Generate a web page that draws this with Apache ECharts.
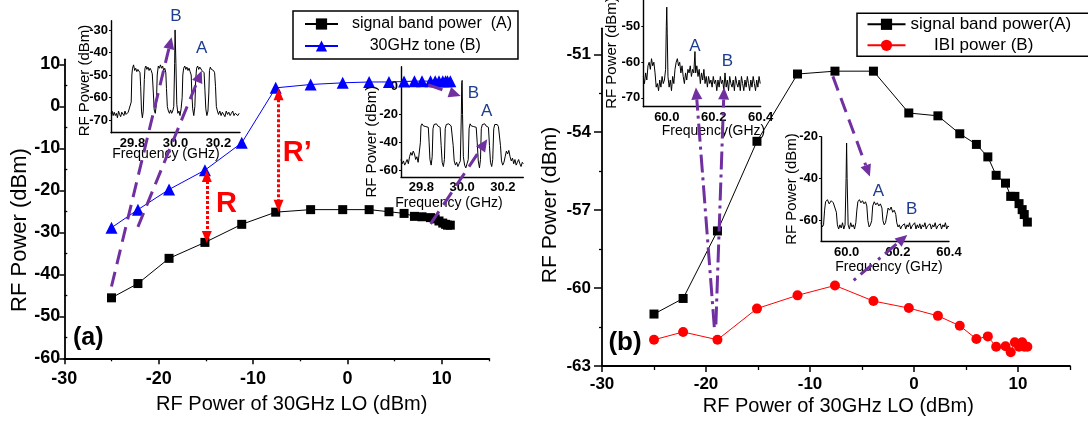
<!DOCTYPE html>
<html><head><meta charset="utf-8">
<script src="https://cdn.jsdelivr.net/npm/echarts@6/dist/echarts.min.js"></script>
<style>html,body{margin:0;padding:0;background:#fff}#c{width:1088px;height:423px}</style>
</head><body><div id="c"></div>
<script>
// ---------- main-panel data ----------
const LO_POWER = [-25, -22.2, -18.9, -15.1, -11.2, -7.6, -3.9, -0.5, 2.3, 4.4, 6.0, 7.1, 7.9, 8.8, 9.3, 9.7, 10.1, 10.4, 10.6, 10.9];
const A_SIGNAL = [-45.6, -42.2, -36.2, -32.4, -28.1, -25.2, -24.6, -24.6, -24.6, -25.1, -25.5, -26.2, -26.3, -26.5, -26.8, -27.3, -27.8, -28.1, -28.3, -28.3];
const A_TONE   = [-28.9, -24.6, -19.8, -15.2, -8.7, 4.4, 5.2, 5.6, 5.8, 5.8, 5.9, 6.0, 6.0, 6.0, 6.0, 6.0, 6.0, 6.0, 6.0, 6.0];
const B_SIGNAL = [-61.0, -60.4, -57.8, -54.35, -51.76, -51.65, -51.65, -53.26, -53.37, -54.06, -54.47, -54.95, -55.66, -55.96, -56.47, -56.47, -56.75, -56.98, -57.17, -57.46];
const B_IBI    = [-61.99, -61.69, -61.99, -60.79, -60.28, -59.90, -60.50, -60.77, -61.07, -61.45, -61.96, -61.86, -62.26, -62.24, -62.47, -62.09, -62.26, -62.09, -62.26, -62.26];

const NAME_A_SIG = 'signal band power  (A)';
const NAME_A_TONE = '30GHz tone (B)';
const NAME_B_SIG = 'signal band power(A)';
const NAME_B_IBI = 'IBI power (B)';

// ---------- ticks ----------
const X_MAJOR = [-30, -20, -10, 0, 10];
const X_MINOR = [-25, -15, -5, 5, 15];
const A_Y_MAJOR = [-60, -50, -40, -30, -20, -10, 0, 10];
const A_Y_MINOR = [-55, -45, -35, -25, -15, -5, 5];
const B_Y_MAJOR = [-63, -60, -57, -54, -51];
const B_Y_MINOR = [-61.5, -58.5, -55.5, -52.5];
const A1_X = [29.8, 30.0, 30.2], A1_Y = [-70, -60, -50, -40, -30];
const A2_X = [29.8, 30.0, 30.2], A2_Y = [-60, -40, -20, 0];
const B1_X = [60.0, 60.2, 60.4], B1_Y = [-70, -60, -50];
const B2_X = [60.0, 60.2, 60.4], B2_Y = [-60, -40, -20];

// ---------- inset spectra [GHz, dBm] ----------
const SPEC_A1 = [[29.700,-67],[29.705,-66],[29.710,-68],[29.715,-66.5],[29.720,-68],[29.725,-67],[29.730,-69],[29.735,-66],[29.740,-67.5],[29.745,-68.5],[29.750,-66.5],[29.755,-67],[29.760,-68],[29.765,-66],[29.770,-67.5],[29.775,-68],[29.780,-66.5],[29.788,-67],[29.794,-62],[29.797,-50],[29.800,-47],[29.805,-45.5],[29.810,-48],[29.815,-47],[29.820,-48.5],[29.825,-47.5],[29.830,-48],[29.835,-49],[29.838,-55],[29.842,-66],[29.846,-69],[29.850,-66],[29.855,-52],[29.858,-47],[29.862,-46],[29.867,-47.5],[29.872,-46.5],[29.877,-48],[29.882,-47],[29.887,-48],[29.892,-49.5],[29.897,-58],[29.901,-65.5],[29.906,-67],[29.911,-63],[29.915,-50],[29.920,-46],[29.925,-47],[29.930,-45.5],[29.935,-47],[29.940,-46],[29.945,-48],[29.950,-47],[29.955,-49],[29.958,-56],[29.962,-64],[29.967,-66],[29.972,-67],[29.977,-65.5],[29.982,-67],[29.987,-66],[29.992,-64],[29.996,-45],[29.998,-30],[30.000,-29.5],[30.002,-45],[30.006,-63],[30.011,-67],[30.016,-66],[30.021,-68],[30.026,-65],[30.031,-60],[30.034,-50],[30.038,-47],[30.043,-46],[30.048,-47.5],[30.053,-46.5],[30.058,-48],[30.063,-47],[30.068,-48.5],[30.073,-50],[30.076,-58],[30.080,-65],[30.085,-68],[30.090,-64],[30.094,-52],[30.098,-47],[30.103,-46],[30.108,-47.5],[30.113,-46.5],[30.118,-47],[30.123,-48],[30.128,-47.5],[30.133,-49],[30.137,-57],[30.141,-65],[30.146,-68],[30.151,-66],[30.155,-58],[30.158,-48],[30.162,-46.5],[30.167,-47.5],[30.172,-47],[30.177,-48],[30.182,-49],[30.186,-55],[30.190,-64],[30.195,-66],[30.200,-67.5],[30.206,-66],[30.212,-68],[30.218,-66.5],[30.224,-67],[30.230,-68.5],[30.236,-66],[30.242,-67.5],[30.248,-66.5],[30.254,-68],[30.260,-67],[30.266,-66],[30.272,-68],[30.278,-67],[30.284,-66.5],[30.290,-68],[30.296,-67]];
const SPEC_A2 = [[29.700,-52],[29.706,-55],[29.712,-53],[29.718,-56],[29.724,-54],[29.730,-52],[29.736,-55],[29.742,-50],[29.748,-47],[29.754,-49],[29.760,-46],[29.766,-48],[29.772,-52],[29.778,-50],[29.784,-54],[29.790,-53],[29.795,-40],[29.798,-28],[29.803,-26.5],[29.810,-28],[29.816,-27],[29.822,-28.5],[29.828,-27.5],[29.834,-29],[29.838,-40],[29.842,-52],[29.848,-56],[29.853,-50],[29.857,-30],[29.862,-27],[29.868,-28],[29.874,-26.5],[29.880,-28],[29.886,-27.5],[29.892,-29],[29.897,-42],[29.902,-54],[29.908,-57],[29.913,-52],[29.917,-30],[29.922,-27],[29.928,-28],[29.934,-26.5],[29.940,-27.5],[29.946,-28],[29.952,-29],[29.956,-42],[29.961,-53],[29.967,-56],[29.973,-54],[29.979,-57],[29.985,-55],[29.991,-53],[29.996,-20],[29.998,3],[30.000,4.5],[30.002,-20],[30.006,-50],[30.012,-56],[30.018,-58],[30.024,-55],[30.030,-52],[30.034,-30],[30.039,-26.5],[30.045,-28],[30.051,-27],[30.057,-28.5],[30.063,-27.5],[30.069,-29],[30.074,-40],[30.079,-53],[30.085,-58],[30.090,-52],[30.094,-30],[30.099,-27],[30.105,-28],[30.111,-26.5],[30.117,-28],[30.123,-27.5],[30.129,-29],[30.134,-42],[30.139,-54],[30.145,-57],[30.150,-52],[30.155,-30],[30.160,-27],[30.166,-28],[30.172,-27],[30.178,-28.5],[30.184,-29],[30.188,-42],[30.193,-53],[30.199,-56],[30.205,-54],[30.211,-50],[30.217,-46],[30.223,-48],[30.229,-45.5],[30.235,-50],[30.241,-53],[30.247,-51],[30.253,-55],[30.259,-52],[30.265,-56],[30.271,-54],[30.277,-52],[30.283,-55],[30.289,-57],[30.295,-54],[30.300,-55]];
const SPEC_B1 = [[59.900,-64],[59.905,-66],[59.910,-63],[59.915,-65],[59.920,-61],[59.925,-60],[59.930,-62],[59.935,-59],[59.940,-61],[59.945,-60],[59.950,-63],[59.955,-67],[59.960,-66],[59.965,-68],[59.970,-65],[59.975,-67],[59.980,-64],[59.985,-66],[59.990,-65],[59.995,-62],[59.998,-50],[60.000,-44.5],[60.002,-52],[60.005,-64],[60.010,-67],[60.015,-65],[60.020,-68],[60.025,-64],[60.030,-66],[60.035,-62],[60.040,-60],[60.045,-59],[60.050,-61],[60.055,-60],[60.060,-63],[60.065,-61],[60.070,-64],[60.075,-66],[60.080,-63],[60.085,-65],[60.090,-62],[60.095,-63],[60.100,-61],[60.105,-64],[60.110,-62],[60.115,-63],[60.120,-57],[60.123,-63],[60.128,-61],[60.133,-64],[60.138,-62],[60.143,-66],[60.148,-63],[60.153,-65],[60.158,-62],[60.163,-66],[60.168,-64],[60.173,-67],[60.178,-64],[60.183,-66],[60.188,-65],[60.193,-67],[60.198,-64],[60.203,-66],[60.208,-65],[60.213,-68],[60.218,-65],[60.223,-67],[60.228,-64],[60.233,-66],[60.238,-65],[60.243,-68],[60.248,-63],[60.253,-67],[60.258,-65],[60.263,-68],[60.268,-64],[60.273,-66],[60.278,-67],[60.283,-65],[60.288,-68],[60.293,-64],[60.298,-66],[60.303,-67],[60.308,-65],[60.313,-68],[60.318,-64],[60.323,-66],[60.328,-68],[60.333,-65],[60.338,-67],[60.343,-64],[60.348,-66],[60.353,-68],[60.358,-65],[60.363,-67],[60.368,-64],[60.373,-66],[60.378,-68],[60.383,-65],[60.388,-67],[60.393,-64],[60.398,-66]];
const SPEC_B2 = [[59.900,-61],[59.905,-63],[59.910,-62],[59.914,-55],[59.918,-51],[59.925,-50],[59.932,-52],[59.940,-50.5],[59.948,-51.5],[59.955,-52],[59.960,-56],[59.964,-62],[59.969,-64],[59.974,-62],[59.979,-63.5],[59.984,-61],[59.989,-64],[59.994,-62],[59.998,-40],[60.000,-23],[60.002,-40],[60.006,-62],[60.011,-64],[60.016,-61],[60.021,-63],[60.026,-62],[60.031,-64],[60.036,-61],[60.040,-55],[60.044,-51],[60.050,-50],[60.056,-51.5],[60.062,-50.5],[60.068,-52],[60.074,-51],[60.079,-53],[60.083,-60],[60.088,-63],[60.093,-62],[60.098,-60],[60.102,-53],[60.108,-51],[60.114,-52.5],[60.120,-51.5],[60.126,-53],[60.132,-52],[60.138,-54],[60.142,-60],[60.147,-62],[60.152,-61],[60.158,-57],[60.162,-54],[60.168,-55],[60.174,-53.5],[60.180,-56],[60.186,-55],[60.192,-57],[60.196,-61],[60.201,-63],[60.206,-62],[60.211,-64],[60.216,-62.5],[60.221,-63],[60.226,-61.5],[60.231,-64],[60.236,-62],[60.241,-63],[60.246,-61],[60.251,-64],[60.256,-62.5],[60.261,-63],[60.266,-61],[60.271,-64],[60.276,-62],[60.281,-63.5],[60.286,-61.5],[60.291,-64],[60.296,-62],[60.301,-63],[60.306,-61],[60.311,-64],[60.316,-62.5],[60.321,-63],[60.326,-61.5],[60.331,-64],[60.336,-62],[60.341,-63],[60.346,-61],[60.351,-64],[60.356,-62.5],[60.361,-63],[60.366,-61.5],[60.371,-64],[60.376,-62],[60.381,-63],[60.386,-61],[60.391,-64],[60.396,-62.5],[60.400,-63]];

// ---------- annotation arrows: [axisIndex, x, y] -> [axisIndex, x, y] ----------
const PURPLE_ARROWS = [
  {from: [0, -25.0, -42.9], to: [2, 29.982, -33.2], dash: [15, 8]},
  {from: [0, -22.2, -28.7], to: [2, 30.122, -48.1], dash: [15, 8]},
  {from: [0, 8.56, 5.1],    to: [3, 29.993, -6.6],  dash: [15, 8]},
  {from: [0, 8.81, -28.0],  to: [3, 30.123, -37.6], dash: [15, 8]},
  {from: [1, -19.2, -61.5], to: [4, 60.124, -67.1], dash: [18, 5, 3, 5]},
  {from: [1, -19.05, -61.4], to: [4, 60.244, -67.1], dash: [18, 5, 3, 5]},
  {from: [1, -7.8, -51.85], to: [5, 60.091, -39.0], dash: [15, 8]},
  {from: [1, -5.8, -59.7],  to: [5, 60.237, -66.8], dash: [3, 6, 15, 8]}
];
const RED_ARROWS = [
  [[-14.9, -16.6], [-14.9, -31.1]],
  [[-7.3, 2.9], [-7.3, -23.7]]
];

const FONT = '"Liberation Sans", Arial, sans-serif';
const chart = echarts.init(document.getElementById('c'), null, {renderer: 'canvas'});

function mainAxis(grid, min, max, ticks, tickLen, fontSize, margin, inside) {
  return {
    type: 'value', gridIndex: grid, min: min, max: max,
    axisLine: {show: true, onZero: false, lineStyle: {color: '#000', width: 1.8}},
    axisTick: {show: true, inside: !!inside, customValues: ticks, length: tickLen, lineStyle: {color: '#000', width: 1.5}},
    axisLabel: {show: true, customValues: ticks, fontSize: fontSize, fontWeight: 'bold', color: '#000', fontFamily: FONT, margin: margin},
    splitLine: {show: false}
  };
}
function minorAxis(grid, min, max, ticks, tickLen, inside) {
  return {
    type: 'value', gridIndex: grid, min: min, max: max,
    axisLine: {show: false, onZero: false},
    axisTick: {show: true, inside: !!inside, customValues: ticks, length: tickLen, lineStyle: {color: '#000', width: 1.3}},
    axisLabel: {show: false},
    splitLine: {show: false}
  };
}
function insetAxis(grid, min, max, ticks, decimals, margin, tickLen) {
  return {
    type: 'value', gridIndex: grid, min: min, max: max,
    axisLine: {show: true, onZero: false, lineStyle: {color: '#000', width: 1.4}},
    axisTick: {show: tickLen > 0, customValues: ticks, length: tickLen, lineStyle: {color: '#000', width: 1}},
    axisLabel: {show: true, customValues: ticks, fontSize: 13, fontWeight: 'bold', color: '#000', fontFamily: FONT, margin: margin,
      formatter: v => Number(v).toFixed(decimals)},
    splitLine: {show: false}
  };
}
const pairs = (xs, ys) => xs.map((x, i) => [x, ys[i]]);

const option = {
  animation: false,
  backgroundColor: '#fff',
  textStyle: {fontFamily: FONT},
  grid: [
    {left: 64.3, top: 59.3, width: 424.7, height: 299, outerBoundsMode: 'none'},
    {left: 602, top: 28.3, width: 468, height: 337.7, outerBoundsMode: 'none'},
    {left: 111, top: 20.7, width: 129, height: 112, outerBoundsMode: 'none'},
    {left: 401, top: 66.7, width: 122.3, height: 110.6, outerBoundsMode: 'none'},
    {left: 643.3, top: 0, width: 117.4, height: 106.7, outerBoundsMode: 'none'},
    {left: 821, top: 136.7, width: 128, height: 104.3, outerBoundsMode: 'none'},
    {left: 64.3, top: 59.3, width: 424.7, height: 299, outerBoundsMode: 'none'},
    {left: 602, top: 28.3, width: 468, height: 337.7, outerBoundsMode: 'none'}
  ],
  xAxis: [
    mainAxis(0, -30, 15, X_MAJOR, 6, 18, 12),
    mainAxis(1, -30, 15, X_MAJOR, 6, 17, 10),
    insetAxis(2, 29.7, 30.3, A1_X, 1, 4, 0),
    insetAxis(3, 29.7, 30.3, A2_X, 1, 4, 0),
    insetAxis(4, 59.9, 60.4, B1_X, 1, 4, 0),
    insetAxis(5, 59.9, 60.4, B2_X, 1, 5, 0),
    minorAxis(6, -30, 15, X_MINOR, 3),
    minorAxis(7, -30, 15, X_MINOR, 4)
  ],
  yAxis: [
    mainAxis(0, -60, 11.2, A_Y_MAJOR, 5, 18, 4),
    mainAxis(1, -63, -50, B_Y_MAJOR, 8, 17, 11),
    insetAxis(2, -75.6, -25.9, A1_Y, 0, 3, 2),
    insetAxis(3, -64.7, 14.3, A2_Y, 0, 3, 2),
    insetAxis(4, -72.5, -42.5, B1_Y, 0, 3, 2),
    insetAxis(5, -69.7, -20, B2_Y, 0, 3, 2),
    minorAxis(6, -60, 11.2, A_Y_MINOR, 3, true),
    minorAxis(7, -63, -50, B_Y_MINOR, 3)
  ],
  legend: [
    {
      data: [NAME_A_SIG, NAME_A_TONE], orient: 'vertical', left: 293, top: 11,
      padding: [5, 6, 5, 11], itemWidth: 33, itemHeight: 14, itemGap: 6,
      borderColor: '#000', borderWidth: 1.5, borderRadius: 0, selectedMode: false,
      textStyle: {fontSize: 16, color: '#000', fontFamily: FONT},
      formatter: n => (n === NAME_A_TONE ? '      ' : '  ') + n
    },
    {
      data: [NAME_B_SIG, NAME_B_IBI], orient: 'vertical', left: 857, top: 13.3,
      padding: [2.5, 30, 2.5, 9.5], itemWidth: 38, itemHeight: 14, itemGap: 4,
      borderColor: '#000', borderWidth: 1.5, borderRadius: 0, selectedMode: false,
      textStyle: {fontSize: 17, color: '#000', fontFamily: FONT},
      formatter: n => (n === NAME_B_IBI ? '     ' : '') + n
    }
  ],
  series: [
    {type: 'line', name: NAME_A_SIG, xAxisIndex: 0, yAxisIndex: 0, data: pairs(LO_POWER, A_SIGNAL),
      symbol: 'rect', symbolSize: 9, itemStyle: {color: '#000'}, lineStyle: {color: '#000', width: 1}, z: 4},
    {type: 'line', name: NAME_A_TONE, xAxisIndex: 0, yAxisIndex: 0, data: pairs(LO_POWER, A_TONE),
      symbol: 'triangle', symbolSize: 12, itemStyle: {color: '#0000ff'}, lineStyle: {color: '#0000ff', width: 1}, z: 4,
      markLine: {silent: true, animation: false, symbol: ['triangle', 'triangle'], symbolSize: [10, 12],
        label: {show: false}, emphasis: {disabled: true},
        lineStyle: {color: '#ff0000', width: 3, type: [3, 2]},
        data: RED_ARROWS.map(a => [{coord: a[0]}, {coord: a[1]}])}},
    {type: 'line', name: NAME_B_SIG, xAxisIndex: 1, yAxisIndex: 1, data: pairs(LO_POWER, B_SIGNAL),
      symbol: 'rect', symbolSize: 9, itemStyle: {color: '#000'}, lineStyle: {color: '#000', width: 1}, z: 4},
    {type: 'line', name: NAME_B_IBI, xAxisIndex: 1, yAxisIndex: 1, data: pairs(LO_POWER, B_IBI),
      symbol: 'circle', symbolSize: 10, itemStyle: {color: '#ff0000'}, lineStyle: {color: '#ff0000', width: 1}, z: 4},
    {type: 'line', name: 'spectrum a1', xAxisIndex: 2, yAxisIndex: 2, data: SPEC_A1, showSymbol: false, silent: true,
      lineStyle: {color: '#000', width: 1}, z: 3},
    {type: 'line', name: 'spectrum a2', xAxisIndex: 3, yAxisIndex: 3, data: SPEC_A2, showSymbol: false, silent: true,
      lineStyle: {color: '#000', width: 1}, z: 3},
    {type: 'line', name: 'spectrum b1', xAxisIndex: 4, yAxisIndex: 4, data: SPEC_B1, showSymbol: false, silent: true,
      lineStyle: {color: '#000', width: 1}, z: 3},
    {type: 'line', name: 'spectrum b2', xAxisIndex: 5, yAxisIndex: 5, data: SPEC_B2, showSymbol: false, silent: true,
      lineStyle: {color: '#000', width: 1}, z: 3}
  ]
};
chart.setOption(option);

// ---------- graphic annotations ----------
function txt(text, x, y, size, opts) {
  opts = opts || {};
  return {type: 'text', x: x, y: y, rotation: opts.rot || 0, z: 50, silent: true,
    style: {text: text, font: (opts.weight || 'normal') + ' ' + size + 'px ' + FONT, fill: opts.color || '#000',
      textAlign: 'center', textVerticalAlign: 'middle', align: 'center', verticalAlign: 'middle'}};
}
const R90 = Math.PI / 2;
const BLUE_TXT = '#1e3d8f';
const graphics = [
  txt('RF Power (dBm)', 19.5, 230, 22, {rot: R90}),
  txt('RF Power of 30GHz LO (dBm)', 291.7, 404, 20),
  txt('RF Power (dBm)', 550.5, 205, 21, {rot: R90}),
  txt('RF Power of 30GHz LO (dBm)', 838.3, 406.7, 20),
  txt('(a)', 88.3, 338.3, 25, {weight: 'bold'}),
  txt('(b)', 625, 343.3, 26, {weight: 'bold'}),
  txt('R', 226.4, 204, 29, {weight: 'bold', color: '#ff0000'}),
  txt('R\u2019', 297.3, 153.3, 29, {weight: 'bold', color: '#ff0000'}),
  // inset axis names
  txt('RF Power (dBm)', 85, 80.5, 15, {rot: R90}),
  txt('Frequency (GHz)', 166, 154, 14),
  txt('RF Power (dBm)', 371.7, 141.7, 15, {rot: R90}),
  txt('Frequency (GHz)', 449, 203, 14),
  txt('RF Power (dBm)', 611.7, 53, 15, {rot: R90}),
  txt('Frequency(GHz)', 713.5, 131.5, 14),
  txt('RF Power (dBm)', 791.7, 189, 15, {rot: R90}),
  txt('Frequency (GHz)', 889, 267.5, 14),
  // inset markers A / B
  txt('B', 176, 16.7, 17, {color: BLUE_TXT}),
  txt('A', 201.7, 48.3, 17, {color: BLUE_TXT}),
  txt('B', 473.3, 93.3, 17, {color: BLUE_TXT}),
  txt('A', 486.7, 111.7, 17, {color: BLUE_TXT}),
  txt('A', 695, 46.7, 17, {color: BLUE_TXT}),
  txt('B', 727.3, 61.7, 17, {color: BLUE_TXT}),
  txt('A', 878.3, 191.7, 17, {color: BLUE_TXT}),
  txt('B', 911.7, 209, 17, {color: BLUE_TXT})
];
const PURPLE = '#7030a0';
PURPLE_ARROWS.forEach(a => {
  const p0 = chart.convertToPixel({xAxisIndex: a.from[0], yAxisIndex: a.from[0]}, [a.from[1], a.from[2]]);
  const p1 = chart.convertToPixel({xAxisIndex: a.to[0], yAxisIndex: a.to[0]}, [a.to[1], a.to[2]]);
  const dx = p1[0] - p0[0], dy = p1[1] - p0[1], L = Math.hypot(dx, dy);
  const ux = dx / L, uy = dy / L, hl = 12, hw = 5.5;
  const base = [p1[0] - ux * hl, p1[1] - uy * hl];
  graphics.push({type: 'line', z: 60, silent: true,
    shape: {x1: p0[0], y1: p0[1], x2: base[0], y2: base[1]},
    style: {stroke: PURPLE, lineWidth: 3, lineDash: a.dash}});
  graphics.push({type: 'polygon', z: 60, silent: true,
    shape: {points: [p1, [base[0] - uy * hw, base[1] + ux * hw], [base[0] + uy * hw, base[1] - ux * hw]]},
    style: {fill: PURPLE}});
});
chart.setOption({graphic: {elements: graphics}});
</script>
</body></html>
